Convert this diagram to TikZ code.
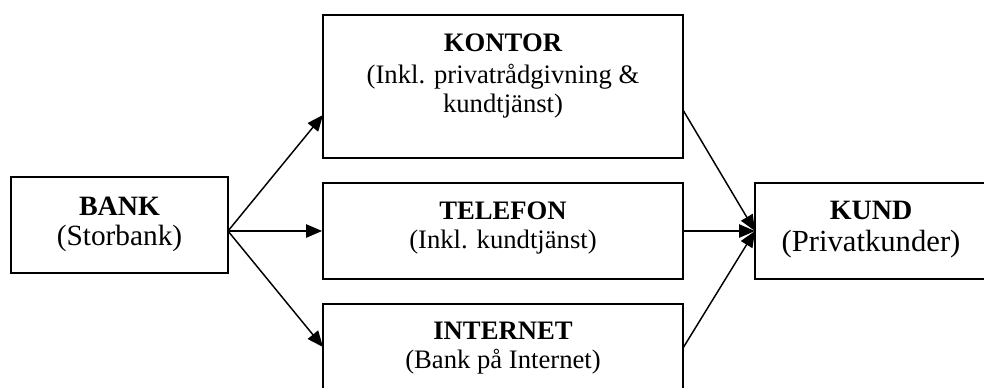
\documentclass[tikz,border=0pt]{standalone}
\usepackage{fontspec}
\setmainfont{Liberation Serif}
\usetikzlibrary{arrows.meta}
\tikzset{
  box/.style={draw, line width=1.4pt, inner sep=0pt},
  conn/.style={line width=1.1pt, -{Triangle[length=12pt,width=10pt]}},
  ttl/.style={anchor=base, inner sep=0pt, font=\fontsize{20}{24}\selectfont\bfseries},
  sub/.style={anchor=base, inner sep=0pt, font=\fontsize{20}{24}\selectfont},
  bttl/.style={anchor=base, inner sep=0pt, font=\fontsize{21}{25}\selectfont\bfseries},
  bsub/.style={anchor=base, inner sep=0pt, font=\fontsize{22}{26}\selectfont},
}
\begin{document}
\begin{tikzpicture}[x=0.75pt,y=-0.75pt]
\clip (0,0) rectangle (984,387);
\fill[white] (0,0) rectangle (984,387);
% boxes
\node[box, minimum width=217*0.75pt, minimum height=96*0.75pt] (bank) at (119.5,225) {};
\node[box, minimum width=360*0.75pt, minimum height=143*0.75pt] (kontor) at (503,86.5) {};
\node[box, minimum width=360*0.75pt, minimum height=96*0.75pt] (telefon) at (503,231) {};
\node[box, minimum width=360*0.75pt, minimum height=96*0.75pt] (internet) at (503,352) {};
\node[box, minimum width=240*0.75pt, minimum height=96*0.75pt] (kund) at (875,231) {};
% texts
\node[bttl] (t1) at (119.5,215.5) {BANK};
\node[bsub] (t2) at (119.5,245.5) {(Storbank)};
\node[ttl] (t3) at (503,51.5) {KONTOR};
\node[sub] (t4) at (503,83) {(Inkl. privatrådgivning \&};
\node[sub] (t5) at (503,112) {kundtjänst)};
\node[ttl] (t6) at (503,219) {TELEFON};
\node[sub] (t7) at (503,248) {(Inkl. kundtjänst)};
\node[ttl] (t8) at (503,339) {INTERNET};
\node[sub] (t9) at (503,368.5) {(Bank på Internet)};
\node[bttl] (t10) at (871,219) {KUND};
\node[bsub, font=\fontsize{23}{27}\selectfont] (t11) at (871,251) {(Privatkunder)};
% connector points
\coordinate (bo) at (228,231);
\coordinate (ki) at (323,115);
\coordinate (ii) at (323,347);
\coordinate (ko) at (683,110);
\coordinate (io) at (683,348);
\coordinate (kin) at (755,231);
% connectors
\draw[conn] (bo) -- (ki);
\draw[conn] (bo) -- (telefon.west);
\draw[conn] (bo) -- (ii);
\draw[conn] (ko) -- (kin);
\draw[conn] (telefon.east) -- (kin);
\draw[conn] (io) -- (kin);
\end{tikzpicture}
\end{document}
